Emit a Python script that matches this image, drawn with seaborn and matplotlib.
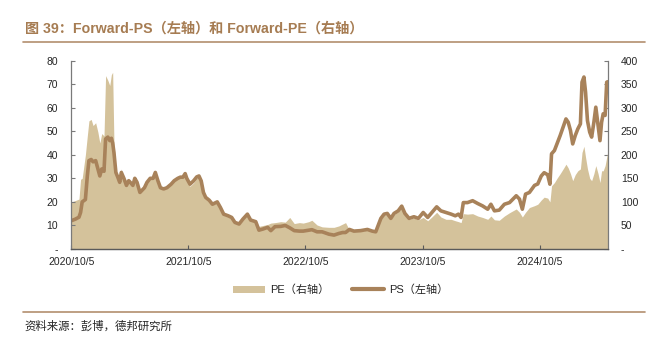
import matplotlib
matplotlib.use("Agg")
import matplotlib.pyplot as plt
from matplotlib.lines import Line2D
from matplotlib.patches import Patch
from matplotlib.ticker import FuncFormatter, MultipleLocator
import pandas as pd
import seaborn as sns

# Observation dates
dates = [
    "2020-10-05", "2020-10-18", "2020-10-29", "2020-11-03", "2020-11-08", "2020-11-18",
    "2020-11-24", "2020-11-29", "2020-12-06", "2020-12-12", "2020-12-20", "2020-12-27",
    "2021-01-02", "2021-01-08", "2021-01-15", "2021-01-20", "2021-01-27", "2021-02-02",
    "2021-02-07", "2021-02-11", "2021-02-15", "2021-02-21", "2021-02-27", "2021-03-05",
    "2021-03-10", "2021-03-18", "2021-03-26", "2021-04-02", "2021-04-07", "2021-04-15",
    "2021-04-21", "2021-04-28", "2021-05-07", "2021-05-14", "2021-05-21", "2021-05-29",
    "2021-06-08", "2021-06-17", "2021-06-24", "2021-07-02", "2021-07-10", "2021-07-20",
    "2021-07-30", "2021-08-12", "2021-08-22", "2021-09-02", "2021-09-10", "2021-09-18",
    "2021-09-25", "2021-09-30",
    "2021-10-10", "2021-10-21", "2021-10-31", "2021-11-07", "2021-11-14", "2021-11-21",
    "2021-11-28", "2021-12-09", "2021-12-19", "2022-01-03", "2022-01-13", "2022-01-23",
    "2022-02-06", "2022-02-17", "2022-02-27", "2022-03-12", "2022-03-24", "2022-04-07",
    "2022-04-17", "2022-05-03", "2022-05-13", "2022-05-26", "2022-06-09", "2022-06-19",
    "2022-07-02", "2022-07-20", "2022-08-03", "2022-08-17", "2022-08-31", "2022-09-16",
    "2022-09-28",
    "2022-10-15", "2022-10-25", "2022-11-10", "2022-11-26", "2022-12-17", "2023-01-02",
    "2023-01-17", "2023-01-29", "2023-02-07", "2023-02-19", "2023-03-05", "2023-03-26",
    "2023-04-16", "2023-05-01", "2023-05-12", "2023-05-28", "2023-06-07", "2023-06-17",
    "2023-06-28", "2023-07-08", "2023-07-21", "2023-08-01", "2023-08-11", "2023-08-24",
    "2023-09-08", "2023-09-22",
    "2023-10-07", "2023-10-21", "2023-11-03", "2023-11-18", "2023-12-01", "2023-12-17",
    "2024-01-02", "2024-01-15", "2024-01-25", "2024-02-02", "2024-02-09", "2024-02-22",
    "2024-03-09", "2024-03-25", "2024-04-09", "2024-04-25", "2024-05-05", "2024-05-16",
    "2024-05-31", "2024-06-16", "2024-07-02", "2024-07-23", "2024-08-02", "2024-08-11",
    "2024-08-21", "2024-09-02", "2024-09-18", "2024-09-28", "2024-10-09",
    "2024-10-18", "2024-10-29", "2024-11-05", "2024-11-10", "2024-11-19", "2024-11-27",
    "2024-12-07", "2024-12-18", "2024-12-25", "2025-01-01", "2025-01-08", "2025-01-15",
    "2025-01-23", "2025-01-31", "2025-02-08", "2025-02-13", "2025-02-19", "2025-02-24",
    "2025-03-02", "2025-03-09", "2025-03-15", "2025-03-22", "2025-03-28", "2025-04-04",
    "2025-04-10", "2025-04-15", "2025-04-20", "2025-04-26", "2025-05-01", "2025-05-04",
]

# Forward-PS (left axis)
ps = [
    12.0, 12.7, 13.5, 15.5, 20.0, 21.0,
    31.0, 37.5, 38.0, 37.0, 37.5, 34.0,
    31.0, 34.0, 33.0, 46.7, 47.5, 46.0,
    47.0, 45.0, 41.0, 32.5, 30.5, 28.3,
    32.5, 30.0, 27.0, 29.0, 28.3, 27.0,
    30.0, 28.3, 24.0, 25.0, 26.0, 28.3,
    30.0, 30.0, 32.5, 29.0, 26.0, 25.5,
    26.0, 27.5, 29.0, 30.0, 30.5, 30.5,
    32.0, 30.0,
    27.5, 28.9, 30.6, 31.0, 28.9, 24.0,
    21.9, 20.7, 19.0, 20.0, 17.6, 14.8,
    14.1, 13.4, 11.3, 10.6, 12.7, 14.8,
    12.3, 11.6, 8.0, 8.5, 9.2, 7.8,
    9.5, 9.6, 10.0, 9.0, 7.8, 7.6,
    7.6,
    8.0, 8.2, 7.3, 7.3, 6.3, 5.9,
    6.6, 7.0, 7.0, 8.3, 7.6, 7.8,
    8.3, 7.6, 7.3, 13.0, 14.8, 15.1,
    13.0, 15.1, 16.2, 18.2, 15.1, 13.0,
    13.7, 13.0,
    15.5, 13.4, 15.5, 17.9, 16.2, 15.5,
    14.8, 14.1, 14.8, 13.4, 19.7, 19.7,
    20.5, 19.3, 18.3, 16.9, 19.0, 16.2,
    16.5, 19.0, 19.7, 22.6, 21.2, 16.9,
    23.3, 24.0, 27.0, 27.6, 31.0,
    32.4, 31.5, 27.5, 40.4, 41.8, 44.6,
    48.2, 52.4, 55.2, 53.8, 50.3, 44.6,
    48.2, 51.0, 53.1, 70.8, 73.0, 66.6,
    54.5, 49.6, 47.5, 53.8, 60.2, 52.4,
    46.0, 53.8, 57.4, 56.7, 70.8, 71.0,
]

# Forward-PE (right axis)
pe = [
    100, 103, 106, 148, 150, 200,
    240, 272, 275, 262, 268, 248,
    225, 245, 240, 368, 358, 347,
    370, 375, 225, 170, 155, 142,
    170, 150, 135, 148, 142, 135,
    152, 142, 120, 125, 130, 142,
    150, 152, 165, 146, 130, 128,
    130, 138, 146, 152, 152, 155,
    160, 148,
    133, 140, 150, 152, 140, 118,
    108, 102, 94, 98, 86, 72,
    69, 66, 56, 52, 62, 73,
    62, 60, 48, 50, 52, 55,
    56, 58, 57, 67, 54, 56,
    55,
    58, 61, 51, 47, 46, 46,
    49, 53, 56, 40, 37, 38,
    40, 37, 35, 63, 72, 73,
    63, 73, 79, 88, 73, 63,
    66, 62,
    67, 60, 68, 78, 68, 63,
    63, 60, 58, 56, 75, 74,
    75, 70, 67, 63, 70, 62,
    61, 70, 77, 85, 78, 68,
    78, 88, 92, 95, 104,
    110, 108, 100, 134, 141, 150,
    160, 172, 180, 172, 160, 145,
    158, 166, 170, 205, 218, 195,
    170, 150, 145, 160, 177, 160,
    141, 166, 166, 177, 195, 205,
]

tick_dates = ["2020-10-05", "2021-10-05", "2022-10-05", "2023-10-05", "2024-10-05"]
tick_labels = ["2020/10/5", "2021/10/5", "2022/10/5", "2023/10/5", "2024/10/5"]

title = "图 39：Forward-PS（左轴）和 Forward-PE（右轴）"
source = "资料来源：彭博，德邦研究所"
pe_label = "PE（右轴）"
ps_label = "PS（左轴）"

PE_COLOR = "#d4c29b"
PS_COLOR = "#a8825a"
ACCENT = "#a67c52"
RULE = "#b38f6e"
TEXT = "#262626"
SPINE = "#7a7a7a"

sns.set_theme(style="white")
plt.rcParams["font.family"] = ["Liberation Sans", "Noto Sans CJK SC", "DejaVu Sans"]

df = pd.DataFrame({"date": pd.to_datetime(dates), "PS": ps, "PE": pe})

fig = plt.figure(figsize=(6.68, 3.37), dpi=100)
ax = fig.add_axes([0.1067, 0.2611, 0.8030, 0.5593])
ax_pe = ax.twinx()

# PE as a filled area on the right axis
ax_pe.fill_between(df["date"], 0, df["PE"], color=PE_COLOR, lw=0)
ax_pe.set_ylim(0, 400)
ax_pe.yaxis.set_major_locator(MultipleLocator(50))

# PS as a line on the left axis, drawn above the area
sns.lineplot(data=df, x="date", y="PS", ax=ax, color=PS_COLOR, lw=2.6,
             legend=False)
ax.set_zorder(ax_pe.get_zorder() + 1)
ax.patch.set_visible(False)
ax.set_ylim(0, 80)
ax.yaxis.set_major_locator(MultipleLocator(10))
ax.set_xlim(pd.Timestamp("2020-10-05"), pd.Timestamp("2025-05-04"))
ax.set_xlabel("")
ax.set_ylabel("")
ax_pe.set_ylabel("")

ax.set_xticks(pd.to_datetime(tick_dates))
ax.set_xticklabels(tick_labels)

dash_fmt = FuncFormatter(lambda v, p: "-" if v == 0 else f"{int(v)}")
ax.yaxis.set_major_formatter(dash_fmt)
ax_pe.yaxis.set_major_formatter(dash_fmt)

for a in (ax, ax_pe):
    a.spines["top"].set_visible(False)
    for side in ("left", "right", "bottom"):
        a.spines[side].set_color(SPINE)
        a.spines[side].set_linewidth(0.9)
ax.spines["right"].set_visible(False)
ax_pe.spines["left"].set_visible(False)
ax.spines["bottom"].set_color("#5a5a5a")

ax.tick_params(axis="y", direction="in", length=3, width=0.8, color=SPINE,
               labelsize=7.5, labelcolor=TEXT, pad=9.5, left=True)
ax_pe.tick_params(axis="y", direction="in", length=3, width=0.8, color=SPINE,
                  labelsize=7.5, labelcolor=TEXT, pad=9.5, right=True)
ax.tick_params(axis="x", direction="in", length=3, width=0.8, color="#5a5a5a",
               labelsize=7.5, labelcolor=TEXT, pad=5.5, bottom=True)

# Title, rules and source note
fig.text(25 / 668, 1 - 33 / 337, title, fontsize=10.2, fontweight="bold",
         color=ACCENT, ha="left", va="baseline")
fig.add_artist(Line2D([23 / 668, 645 / 668], [1 - 41.7 / 337] * 2,
                      color=RULE, lw=1.2, transform=fig.transFigure))
fig.add_artist(Line2D([23 / 668, 645 / 668], [1 - 311.7 / 337] * 2,
                      color=RULE, lw=1.2, transform=fig.transFigure))
fig.text(24 / 668, 1 - 330 / 337, source, fontsize=8.2, color=TEXT,
         ha="left", va="baseline",
         family=["Noto Sans CJK SC", "DejaVu Sans"])

handles = [Patch(facecolor=PE_COLOR, edgecolor="none"),
           Line2D([0], [0], color=PS_COLOR, lw=3)]
fig.legend(handles, [pe_label, ps_label], loc="center",
           bbox_to_anchor=(0.51, 1 - 290 / 337), ncol=2, frameon=False,
           fontsize=8, handlelength=2.9, handleheight=0.65,
           handletextpad=0.5, columnspacing=2.0,
           labelcolor=TEXT)

fig.savefig("out.png", dpi=100)
